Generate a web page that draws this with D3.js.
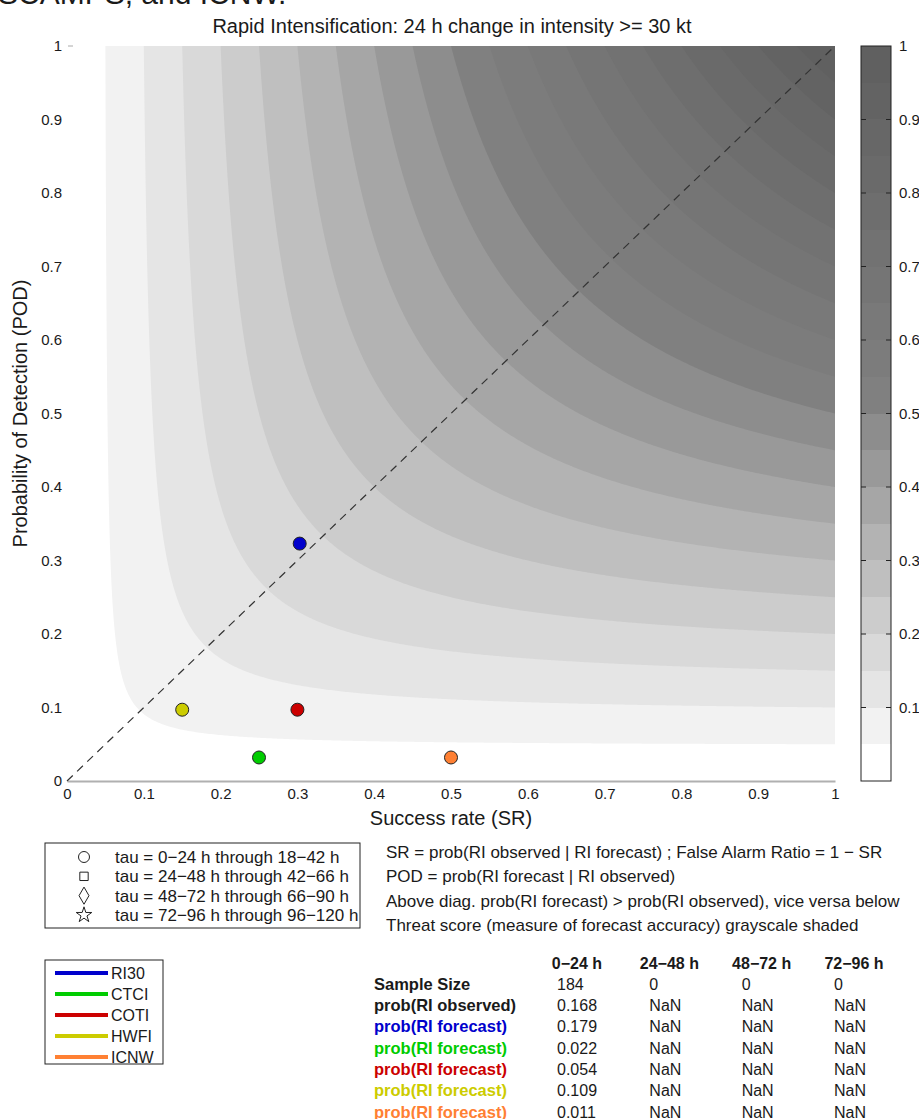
<!DOCTYPE html>
<html>
<head>
<meta charset="utf-8">
<script src="https://cdn.jsdelivr.net/npm/d3@7"></script>
<style>
  body { margin: 0; background: #fff; }
  text { font-family: "Liberation Sans", Arial, sans-serif; fill: #1a1a1a; }
</style>
</head>
<body>
<div id="chart"></div>
<script>
// verification points: success rate and probability of detection for each model
const models = ["RI30", "CTCI", "COTI", "HWFI", "ICNW"];
const successRate = [0.303, 0.25, 0.3, 0.15, 0.5];
const detection = [0.323, 0.032, 0.097, 0.097, 0.032];
const modelColors = ["#0000cc", "#00cc00", "#cc0000", "#cccc00", "#ff8033"];

// threat score levels (grayscale contours) and tick values
const tsLevels = [0.05, 0.1, 0.15, 0.2, 0.25, 0.3, 0.35, 0.4, 0.45, 0.5,
                  0.55, 0.6, 0.65, 0.7, 0.75, 0.8, 0.85, 0.9, 0.95];
const axisTicks = [0, 0.1, 0.2, 0.3, 0.4, 0.5, 0.6, 0.7, 0.8, 0.9, 1];
const colorbarTicks = [0.1, 0.2, 0.3, 0.4, 0.5, 0.6, 0.7, 0.8, 0.9, 1];

// legend and notes
const tauLabels = ["tau = 0−24 h through 18−42 h", "tau = 24−48 h through 42−66 h",
                   "tau = 48−72 h through 66−90 h", "tau = 72−96 h through 96−120 h"];
const noteLines = ["SR = prob(RI observed | RI forecast) ; False Alarm Ratio = 1 − SR",
                   "POD = prob(RI forecast | RI observed)",
                   "Above diag. prob(RI forecast) > prob(RI observed), vice versa below",
                   "Threat score (measure of forecast accuracy) grayscale shaded"];

// table values
const leadTimes = ["0−24 h", "24−48 h", "48−72 h", "72−96 h"];
const sampleSize = [184, 0, 0, 0];
const probObserved = [0.168, NaN, NaN, NaN];
const probRI30 = [0.179, NaN, NaN, NaN];
const probCTCI = [0.022, NaN, NaN, NaN];
const probCOTI = [0.054, NaN, NaN, NaN];
const probHWFI = [0.109, NaN, NaN, NaN];
const probICNW = [0.011, NaN, NaN, NaN];

const width = 919;
const height = 1119;

const svg = d3.select("#chart")
    .append("svg")
    .attr("width", width)
    .attr("height", height);

// scales
const x = d3.scaleLinear().domain([0, 1]).range([67, 835]);
const y = d3.scaleLinear().domain([0, 1]).range([781, 46]);
const gray = d3.scaleLinear().domain([0.05, 0.5, 1]).range(["#f2f2f2", "#808080", "#5c5c5c"]);

// cut off text from the page above
svg.append("text")
    .attr("x", -2).attr("y", 4)
    .style("font-size", "30px")
    .text("SCAMPS, and ICNW.");

// threat score field on a grid
const n = 400;
const grid = new Array(n * n);
for (let j = 0; j < n; j++) {
    for (let i = 0; i < n; i++) {
        const sr = i / (n - 1), pd = j / (n - 1);
        grid[j * n + i] = (sr > 0 && pd > 0) ? 1 / (1 / sr + 1 / pd - 1) : 0;
    }
}
const contours = d3.contours().size([n, n]).thresholds(tsLevels)(grid);

const toUnit = c => Math.max(0, Math.min(1, (c - 0.5) / (n - 1)));
const projection = d3.geoTransform({
    point: function(px, py) { this.stream.point(x(toUnit(px)), y(toUnit(py))); }
});
const path = d3.geoPath(projection);

svg.append("g")
    .selectAll("path")
    .data(contours)
    .join("path")
    .attr("d", path)
    .attr("fill", d => gray(d.value));

// x axis
const xAxis = svg.append("g")
    .attr("transform", `translate(0,${y(0)})`)
    .call(d3.axisBottom(x).tickValues(axisTicks).tickFormat(d3.format("~g")).tickSize(0).tickPadding(7));
xAxis.select(".domain").attr("stroke", "#b0b0b0").attr("stroke-width", 2);
xAxis.selectAll("text").style("font-size", "15px").attr("fill", "#1a1a1a");

// y axis (labels only)
const yAxis = svg.append("g")
    .attr("transform", `translate(${x(0) - 5},0)`)
    .call(d3.axisLeft(y).tickValues(axisTicks).tickFormat(d3.format("~g")).tickSize(0).tickPadding(0));
yAxis.select(".domain").remove();
yAxis.selectAll("text").style("font-size", "15px").attr("fill", "#1a1a1a");

// small tick at top left
svg.append("line")
    .attr("x1", x(0) + 1).attr("x2", x(0) + 6)
    .attr("y1", y(1)).attr("y2", y(1))
    .attr("stroke", "#aaa");

// diagonal
svg.append("line")
    .attr("x1", x(0)).attr("y1", y(0))
    .attr("x2", x(1)).attr("y2", y(1))
    .attr("stroke", "#333")
    .attr("stroke-width", 1.2)
    .attr("stroke-dasharray", "8,6");

// model points
svg.append("g")
    .selectAll("circle")
    .data(models)
    .join("circle")
    .attr("cx", (d, i) => x(successRate[i]))
    .attr("cy", (d, i) => y(detection[i]))
    .attr("r", 6.5)
    .attr("fill", (d, i) => modelColors[i])
    .attr("stroke", "#222")
    .attr("stroke-width", 1);

// titles
svg.append("text")
    .attr("x", 452).attr("y", 33)
    .attr("text-anchor", "middle")
    .style("font-size", "20px")
    .text("Rapid Intensification: 24 h change in intensity >= 30 kt");

svg.append("text")
    .attr("x", 451).attr("y", 825)
    .attr("text-anchor", "middle")
    .style("font-size", "20px")
    .text("Success rate (SR)");

svg.append("text")
    .attr("transform", `translate(27,${y(0.5)}) rotate(-90)`)
    .attr("text-anchor", "middle")
    .style("font-size", "20px")
    .text("Probability of Detection (POD)");

// colorbar
const cbX = 861, cbW = 30;
const cbBands = [0].concat(tsLevels);
const bandTop = i => Math.round(y(i + 1 < cbBands.length ? cbBands[i + 1] : 1));
svg.append("g")
    .attr("shape-rendering", "crispEdges")
    .selectAll("rect")
    .data(cbBands)
    .join("rect")
    .attr("x", cbX)
    .attr("width", cbW)
    .attr("y", (d, i) => bandTop(i))
    .attr("height", (d, i) => Math.round(y(d)) - bandTop(i))
    .attr("fill", d => d === 0 ? "#fff" : gray(d));

svg.append("rect")
    .attr("x", cbX).attr("y", y(1))
    .attr("width", cbW).attr("height", y(0) - y(1))
    .attr("fill", "none").attr("stroke", "#222").attr("stroke-width", 1);

const cbTicks = svg.append("g");
cbTicks.selectAll("line.l")
    .data(colorbarTicks.filter(d => d < 1))
    .join("line")
    .attr("class", "l")
    .attr("x1", cbX).attr("x2", cbX + 5)
    .attr("y1", d => y(d)).attr("y2", d => y(d))
    .attr("stroke", "#222");
cbTicks.selectAll("line.r")
    .data(colorbarTicks.filter(d => d < 1))
    .join("line")
    .attr("class", "r")
    .attr("x1", cbX + cbW - 5).attr("x2", cbX + cbW)
    .attr("y1", d => y(d)).attr("y2", d => y(d))
    .attr("stroke", "#222");
cbTicks.selectAll("text")
    .data(colorbarTicks)
    .join("text")
    .attr("x", cbX + cbW + 8)
    .attr("y", d => y(d))
    .attr("dy", "0.35em")
    .style("font-size", "15px")
    .text(d3.format("~g"));

// marker-shape legend
const tauLegend = svg.append("g");
tauLegend.append("rect")
    .attr("x", 45).attr("y", 843)
    .attr("width", 315).attr("height", 85)
    .attr("fill", "#fff").attr("stroke", "#222");
const tauShapes = [d3.symbolCircle, d3.symbolSquare, d3.symbolDiamond, d3.symbolStar];
const tauSizes = [95, 70, 85, 75];
const tauY = d3.scaleLinear().domain([0, 3]).range([857, 915]);
tauLegend.selectAll("path")
    .data(tauLabels)
    .join("path")
    .attr("transform", (d, i) => `translate(84,${tauY(i)})`)
    .attr("d", (d, i) => d3.symbol(tauShapes[i], tauSizes[i])())
    .attr("fill", "none")
    .attr("stroke", "#222")
    .attr("stroke-width", 1);
tauLegend.selectAll("text")
    .data(tauLabels)
    .join("text")
    .attr("x", 115)
    .attr("y", (d, i) => tauY(i))
    .attr("dy", "0.35em")
    .style("font-size", "17px")
    .text(d => d);

// notes
svg.append("g")
    .selectAll("text")
    .data(noteLines)
    .join("text")
    .attr("x", 386)
    .attr("y", (d, i) => 852 + i * 24.3)
    .attr("dy", "0.35em")
    .style("font-size", "17px")
    .text(d => d);

// model colour legend
const modelLegend = svg.append("g");
modelLegend.append("rect")
    .attr("x", 45).attr("y", 960)
    .attr("width", 118).attr("height", 104)
    .attr("fill", "#fff").attr("stroke", "#222");
const modelY = d3.scaleLinear().domain([0, 4]).range([973, 1057]);
modelLegend.selectAll("line")
    .data(models)
    .join("line")
    .attr("x1", 55).attr("x2", 108)
    .attr("y1", (d, i) => modelY(i)).attr("y2", (d, i) => modelY(i))
    .attr("stroke", (d, i) => modelColors[i])
    .attr("stroke-width", 4);
modelLegend.selectAll("text")
    .data(models)
    .join("text")
    .attr("x", 111)
    .attr("y", (d, i) => modelY(i))
    .attr("dy", "0.35em")
    .style("font-size", "16px")
    .text(d => d);

// table
const rowLabels = ["Sample Size", "prob(RI observed)", "prob(RI forecast)", "prob(RI forecast)",
                   "prob(RI forecast)", "prob(RI forecast)", "prob(RI forecast)"];
const rowValues = [sampleSize, probObserved, probRI30, probCTCI, probCOTI, probHWFI, probICNW];
const rowColors = ["#1a1a1a", "#1a1a1a"].concat(modelColors);
const col = d3.scalePoint().domain(leadTimes).range([557, 834]);
const row = d3.scaleLinear().domain([0, 6]).range([984, 1112]);

const table = svg.append("g").style("font-size", "16px");
table.selectAll("text.head")
    .data(leadTimes)
    .join("text")
    .attr("class", "head")
    .attr("x", d => col(d) + 20)
    .attr("y", 963)
    .attr("dy", "0.35em")
    .attr("text-anchor", "middle")
    .style("font-weight", "bold")
    .text(d => d);

table.selectAll("text.label")
    .data(rowLabels)
    .join("text")
    .attr("class", "label")
    .attr("x", 374)
    .attr("y", (d, i) => row(i))
    .attr("dy", "0.35em")
    .style("font-weight", "bold")
    .style("font-size", "16.5px")
    .style("fill", (d, i) => rowColors[i])
    .text(d => d);

rowValues.forEach((vals, r) => {
    table.selectAll(null)
        .data(vals)
        .join("text")
        .attr("x", (d, i) => col(leadTimes[i]))
        .attr("y", row(r))
        .attr("dy", "0.35em")
        .text(d => isNaN(d) ? "NaN" : (r === 0 ? d : d3.format(".3f")(d)));
});
</script>
</body>
</html>
